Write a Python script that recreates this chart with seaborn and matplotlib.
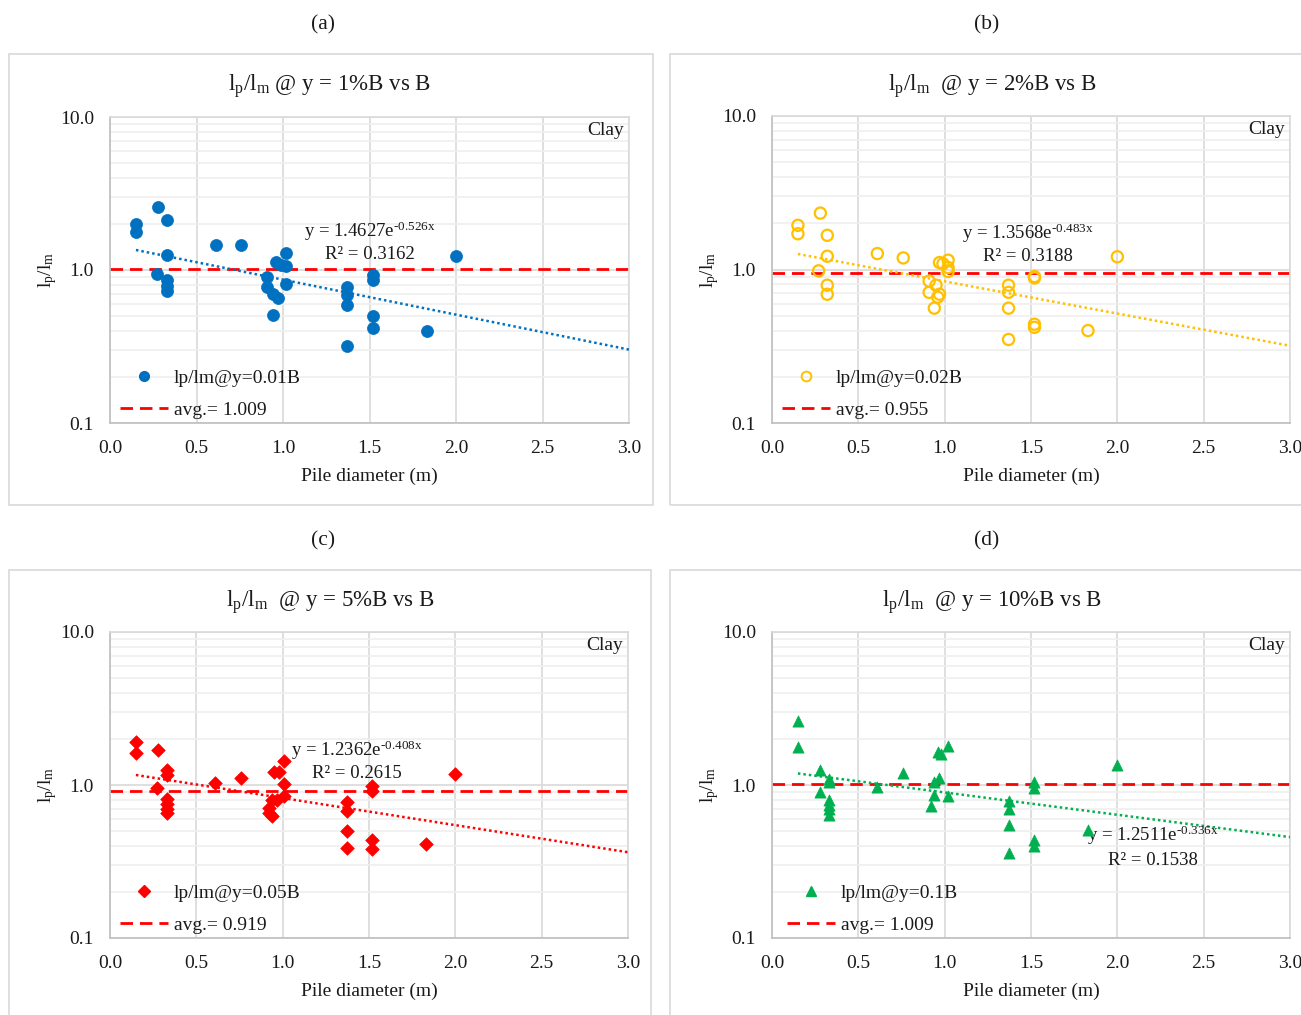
import numpy as np
import pandas as pd
import matplotlib
matplotlib.use("Agg")
import matplotlib.pyplot as plt
from matplotlib.lines import Line2D
from matplotlib.patches import Rectangle
import seaborn as sns

# ---- data: normalised lengths lp/lm vs pile diameter B (m), clay ----
x_a = [0.15, 0.15, 0.28, 0.33, 0.33, 0.27, 0.33, 0.33, 0.33, 0.61, 0.76, 0.91, 0.91, 0.94, 0.97,
       0.94, 0.96, 0.99, 1.02, 1.02, 1.02, 1.37, 1.37, 1.37, 1.37, 1.52, 1.52, 1.52, 1.52, 1.83, 2.00]
y_a = [1.99, 1.76, 2.59, 2.12, 1.25, 0.94, 0.86, 0.79, 0.73, 1.45, 1.45, 0.90, 0.77, 0.70, 0.66,
       0.51, 1.12, 1.08, 1.06, 1.29, 0.81, 0.78, 0.69, 0.59, 0.32, 0.93, 0.86, 0.50, 0.42, 0.40, 1.23]

x_b = [0.15, 0.15, 0.28, 0.32, 0.32, 0.27, 0.32, 0.32, 0.61, 0.76, 0.91, 0.95, 0.91, 0.97, 0.96,
       0.94, 0.97, 0.99, 1.02, 1.02, 1.02, 1.37, 1.37, 1.37, 1.37, 1.52, 1.52, 1.52, 1.52, 1.83, 2.00]
y_b = [1.94, 1.71, 2.33, 1.67, 1.22, 0.98, 0.79, 0.69, 1.27, 1.19, 0.84, 0.79, 0.71, 0.69, 0.66,
       0.56, 1.11, 1.09, 1.15, 1.03, 0.97, 0.79, 0.71, 0.56, 0.35, 0.90, 0.88, 0.44, 0.42, 0.40, 1.21]

x_c = [0.15, 0.15, 0.28, 0.33, 0.33, 0.27, 0.33, 0.33, 0.33, 0.33, 0.61, 0.76, 0.92, 0.92, 0.94, 0.94,
       0.97, 0.95, 0.98, 1.01, 1.01, 1.01, 1.37, 1.37, 1.37, 1.37, 1.52, 1.52, 1.52, 1.52, 1.83, 2.00]
y_c = [1.92, 1.61, 1.69, 1.25, 1.16, 0.96, 0.81, 0.75, 0.70, 0.66, 1.03, 1.11, 0.71, 0.66, 0.63, 0.80,
       0.80, 1.21, 1.21, 1.44, 1.01, 0.85, 0.77, 0.68, 0.50, 0.39, 0.98, 0.91, 0.44, 0.38, 0.41, 1.18]

x_d = [0.15, 0.15, 0.28, 0.33, 0.33, 0.28, 0.33, 0.33, 0.33, 0.33, 0.61, 0.76, 0.92, 0.94, 0.94,
       0.97, 0.96, 0.98, 1.02, 1.02, 1.37, 1.37, 1.37, 1.37, 1.52, 1.52, 1.52, 1.52, 1.83, 2.00]
y_d = [2.63, 1.76, 1.25, 1.09, 1.05, 0.90, 0.80, 0.74, 0.70, 0.64, 0.97, 1.19, 0.73, 0.86, 1.05,
       1.11, 1.65, 1.59, 1.80, 0.85, 0.79, 0.70, 0.55, 0.36, 1.04, 0.95, 0.44, 0.40, 0.51, 1.35]

# exponential trend y = a*exp(b*x), R^2 and average of each series
fit_a = [1.4627, -0.526]
fit_b = [1.3568, -0.483]
fit_c = [1.2362, -0.408]
fit_d = [1.2511, -0.336]
r2_vals = ["0.3162", "0.3188", "0.2615", "0.1538"]
avg_vals = [1.009, 0.955, 0.919, 1.009]

panel_letters = ["(a)", "(b)", "(c)", "(d)"]
titles = [r"$\mathregular{l_p/l_m}$ @ y = 1%B vs B",
          r"$\mathregular{l_p/l_m}$  @ y = 2%B vs B",
          r"$\mathregular{l_p/l_m}$  @ y = 5%B vs B",
          r"$\mathregular{l_p/l_m}$  @ y = 10%B vs B"]
series_labels = ["lp/lm@y=0.01B", "lp/lm@y=0.02B", "lp/lm@y=0.05B", "lp/lm@y=0.1B"]
x_ticks = [0.0, 0.5, 1.0, 1.5, 2.0, 2.5, 3.0]
y_ticks = [0.1, 1.0, 10.0]

# ---- style ----
sns.set_theme(style="white")
plt.rcParams["font.family"] = ["Liberation Serif", "DejaVu Serif"]
plt.rcParams["mathtext.fontset"] = "custom"
plt.rcParams["mathtext.rm"] = "Liberation Serif"
plt.rcParams["mathtext.it"] = "Liberation Serif:italic"
plt.rcParams["mathtext.bf"] = "Liberation Serif:bold"

W, H = 1301, 1015
fig = plt.figure(figsize=(W / 100, H / 100), dpi=100)

def fx(px):
    return px / W

def fy(py):
    return 1 - py / H

TXT = "#1a1a1a"
colors = ["#0070C0", "#FFC000", "#FF0000", "#00B050"]
markers = ["o", "o", "D", "^"]
filled = [True, False, True, True]
msize = [75, 65, 48, 65]

# layout in pixels: (axes left, axes right, axes top, axes bottom, box left, box right, box top, box bottom)
layout = [
    (110, 629, 117, 423, 9, 653, 54, 505),
    (772, 1290, 116, 423, 670, 1312, 54, 505),
    (110, 628, 632, 938, 9, 651, 570, 1025),
    (772, 1290, 632, 938, 670, 1312, 570, 1025),
]
letter_x = [323, 987, 323, 987]
title_x = [330, 992, 330, 992]
eq_pos = [(0.50, 0.627, 0.552), (0.494, 0.618, 0.542), (0.477, 0.614, 0.539), (0.735, 0.337, 0.252)]
leg_anchor = [(0.012, 0.0), (0.012, 0.0), (0.012, 0.0), (0.022, 0.0)]

xs = [x_a, x_b, x_c, x_d]
ys = [y_a, y_b, y_c, y_d]
fits = [fit_a, fit_b, fit_c, fit_d]
HY = "\u2010"  # plain hyphen glyph for the exponent

for i in range(4):
    axl, axr, axt, axb, bl, br, bt, bb = layout[i]
    # chart box
    fig.add_artist(Rectangle((fx(bl), fy(bb)), fx(br) - fx(bl), fy(bt) - fy(bb),
                             transform=fig.transFigure, fill=False,
                             edgecolor="#d9d9d9", lw=1.2, zorder=0))
    # panel letter and chart title
    fig.text(fx(letter_x[i]), fy(bt - 29), panel_letters[i],
             ha="center", va="center", fontsize=15.5, color=TXT)
    fig.text(fx(title_x[i]), fy(bt + 32), titles[i], ha="center", va="center",
             fontsize=16.5, color=TXT)

    ax = fig.add_axes([fx(axl), fy(axb), fx(axr) - fx(axl), fy(axt) - fy(axb)])
    ax.set_yscale("log")
    ax.set_xlim(0, 3.0)
    ax.set_ylim(0.1, 10.0)

    # grid
    ax.set_xticks(x_ticks)
    ax.set_xticklabels([f"{t:.1f}" for t in x_ticks])
    ax.set_yticks(y_ticks)
    ax.set_yticklabels([f"{t:.1f}" for t in y_ticks])
    ax.set_yticks([m * 10.0 ** e for e in (-1, 0) for m in range(2, 10)], minor=True)
    ax.yaxis.set_minor_formatter(matplotlib.ticker.NullFormatter())
    ax.grid(True, which="major", color="#d9d9d9", lw=1.2)
    ax.grid(True, which="minor", axis="y", color="#efefef", lw=1.2)
    ax.set_axisbelow(True)
    ax.tick_params(axis="both", which="both", length=0, labelsize=14, colors=TXT)
    ax.tick_params(axis="y", pad=11.5)
    ax.tick_params(axis="x", pad=12)
    for s in ["left", "bottom"]:
        ax.spines[s].set_color("#bfbfbf")
        ax.spines[s].set_linewidth(1.2)
    for s in ["top", "right"]:
        ax.spines[s].set_color("#d9d9d9")
        ax.spines[s].set_linewidth(1.2)

    # average line
    ax.axhline(avg_vals[i], color="#FF0000", lw=2.0, ls=(0, (4.5, 2.5)), zorder=2)

    # exponential trend line from the fitted coefficients
    a, b = fits[i]
    xt = np.linspace(min(xs[i]), 3.0, 200)
    trend = pd.DataFrame({"x": xt, "y": a * np.exp(b * xt)})
    sns.lineplot(data=trend, x="x", y="y", ax=ax, color=colors[i], lw=1.8,
                 linestyle=(0, (1, 1.2)), zorder=3)

    # data points
    df = pd.DataFrame({"B": xs[i], "ratio": ys[i]})
    if filled[i]:
        sns.scatterplot(data=df, x="B", y="ratio", ax=ax, color=colors[i], marker=markers[i],
                        s=msize[i], edgecolor=colors[i], linewidth=0.5, zorder=4)
    else:
        sns.scatterplot(data=df, x="B", y="ratio", ax=ax, marker=markers[i], s=msize[i],
                        facecolor="none", edgecolor=colors[i], linewidth=1.6, zorder=4)

    ax.set_xlabel("Pile diameter (m)", fontsize=14, labelpad=8, color=TXT)
    ax.set_ylabel(r"$\mathregular{l_p/l_m}$", fontsize=14, labelpad=1, color=TXT)

    # equation and R^2
    ex, ey1, ey2 = eq_pos[i]
    exp_txt = f"{b:.3f}x".replace("-", HY)
    ax.text(ex, ey1, f"y = {a:.4f}e$^{{\\mathregular{{{exp_txt}}}}}$", transform=ax.transAxes,
            ha="center", va="center", fontsize=13.5, color=TXT)
    ax.text(ex, ey2, f"R² = {r2_vals[i]}", transform=ax.transAxes,
            ha="center", va="center", fontsize=13.5, color=TXT)
    ax.text(0.99, 0.955, "Clay", transform=ax.transAxes, ha="right", va="center",
            fontsize=14, color=TXT)

    # legend
    if filled[i]:
        mh = Line2D([], [], ls="none", marker=markers[i], color=colors[i],
                    markersize=7 if i != 2 else 6)
    else:
        mh = Line2D([], [], ls="none", marker="o", markerfacecolor="none",
                    markeredgecolor=colors[i], markeredgewidth=1.4, markersize=7)
    lh = Line2D([], [], color="#FF0000", lw=2.0, ls=(0, (4.5, 2.5)))
    leg = ax.legend([mh, lh], [series_labels[i], f"avg.= {avg_vals[i]:.3f}"],
                    loc="lower left", bbox_to_anchor=leg_anchor[i], frameon=False,
                    fontsize=14, handlelength=2.45, handletextpad=0.3, labelspacing=0.75,
                    borderpad=0.2, borderaxespad=0.0)
    for t in leg.get_texts():
        t.set_color(TXT)

fig.savefig("out.png", dpi=100, facecolor="white")
